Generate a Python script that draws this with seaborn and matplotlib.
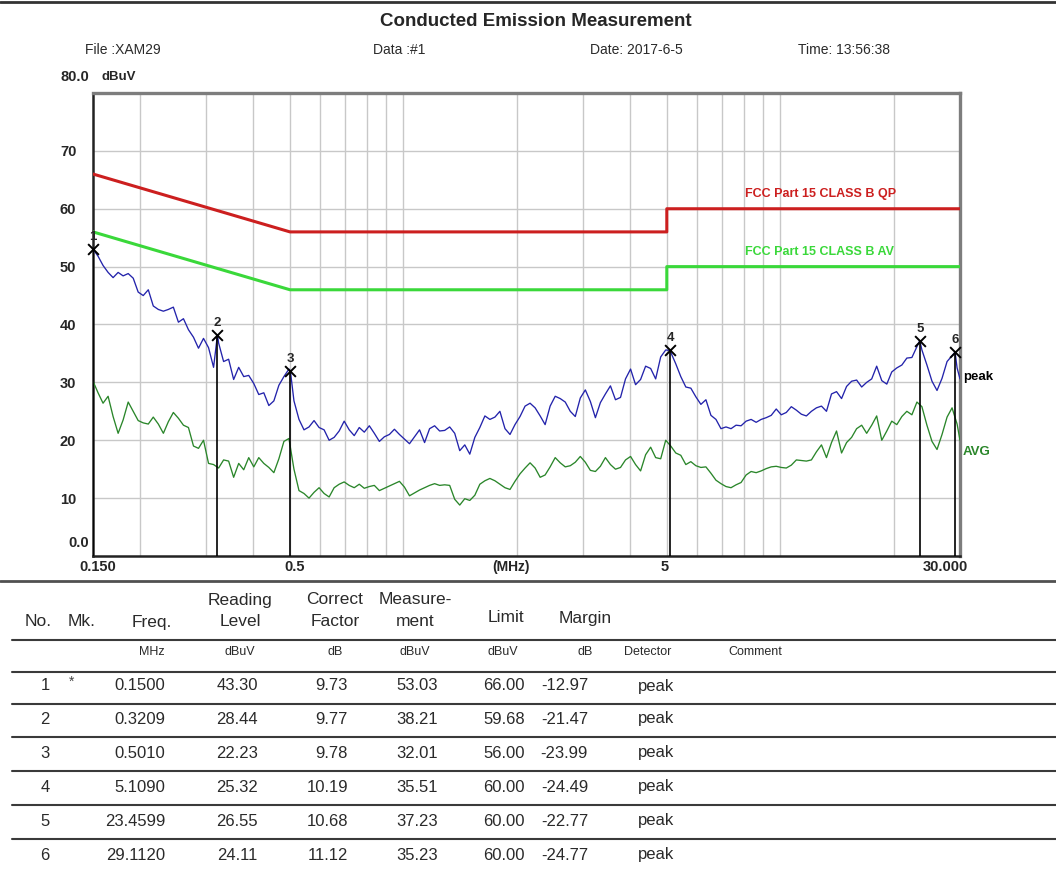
import matplotlib
matplotlib.use("Agg")
import matplotlib.pyplot as plt
from matplotlib.lines import Line2D
import pandas as pd
import seaborn as sns

# ---------------------------------------------------------------- sweep data
FREQ = [
    0.1500, 0.1547, 0.1595, 0.1645, 0.1696, 0.1749, 0.1803, 0.1860, 0.1918, 0.1977,
    0.2039, 0.2103, 0.2168, 0.2236, 0.2306, 0.2377, 0.2451, 0.2528, 0.2607, 0.2688,
    0.2772, 0.2858, 0.2947, 0.3039, 0.3134, 0.3232, 0.3332, 0.3436, 0.3543, 0.3654,
    0.3768, 0.3885, 0.4007, 0.4131, 0.4260, 0.4393, 0.4530, 0.4671, 0.4817, 0.4967,
    0.5122, 0.5282, 0.5446, 0.5616, 0.5791, 0.5972, 0.6158, 0.6350, 0.6548, 0.6752,
    0.6962, 0.7179, 0.7403, 0.7634, 0.7872, 0.8118, 0.8370, 0.8632, 0.8900, 0.9178,
    0.9464, 0.9759, 1.0063, 1.0377, 1.0701, 1.1035, 1.1379, 1.1733, 1.2099, 1.2476,
    1.2866, 1.3266, 1.3680, 1.4107, 1.4547,
    1.500, 1.547, 1.595, 1.645, 1.696, 1.749, 1.803, 1.860, 1.918, 1.977,
    2.039, 2.103, 2.168, 2.236, 2.306, 2.377, 2.451, 2.528, 2.607, 2.688,
    2.772, 2.858, 2.947, 3.039, 3.134, 3.232, 3.332, 3.436, 3.543, 3.654,
    3.768, 3.885, 4.007, 4.131, 4.260, 4.393, 4.530, 4.671, 4.817, 4.967,
    5.122, 5.282, 5.446, 5.616, 5.791, 5.972, 6.158, 6.350, 6.548, 6.752,
    6.962, 7.179, 7.403, 7.634, 7.872, 8.118, 8.370, 8.632, 8.900, 9.178,
    9.464, 9.759, 10.063, 10.377, 10.701, 11.035, 11.379, 11.733, 12.099, 12.476,
    12.866, 13.266, 13.680, 14.107, 14.547,
    15.00, 15.47, 15.95, 16.45, 16.96, 17.49, 18.03, 18.60, 19.18, 19.77,
    20.39, 21.03, 21.68, 22.36, 23.06, 23.77, 24.51, 25.28, 26.07, 26.88,
    27.72, 28.58, 29.47, 30.00,
]

PEAK = [
    53.03, 51.8, 50.2, 49.0, 48.1, 49.0, 48.4, 48.8, 48.0, 45.6,
    45.0, 46.0, 43.2, 42.6, 42.3, 42.6, 43.0, 40.4, 41.0, 39.1,
    37.8, 35.9, 37.6, 36.0, 32.6, 36.8, 33.6, 34.0, 30.5, 32.6,
    31.0, 31.2, 29.8, 27.9, 28.2, 26.0, 26.8, 29.5, 31.0, 32.3,
    26.8, 23.6, 21.8, 22.3, 23.4, 22.2, 21.8, 20.0, 20.5, 21.6,
    23.3, 21.8, 20.8, 22.2, 21.4, 22.5, 21.2, 19.8, 20.6, 21.0,
    21.9, 21.0, 20.2, 19.4, 20.6, 21.8, 19.6, 22.0, 22.5, 21.6,
    21.7, 22.3, 21.2, 18.2, 19.2, 17.6, 20.5, 22.2, 24.2, 23.6,
    24.0, 25.0, 22.0, 21.0, 22.7, 24.1, 25.9, 26.4, 25.6, 24.2,
    22.7, 25.9, 27.6, 27.2, 26.6, 25.0, 24.1, 27.3, 28.7, 26.7,
    23.9, 26.5, 28.0, 29.4, 27.0, 27.4, 30.6, 32.3, 29.6, 30.5,
    32.8, 32.4, 30.6, 34.4, 35.6, 35.2, 33.2, 31.0, 29.2, 29.0,
    27.5, 26.2, 27.0, 24.3, 23.6, 22.0, 22.3, 22.0, 22.6, 22.5,
    23.3, 23.6, 23.1, 23.6, 23.9, 24.3, 25.4, 24.4, 24.8, 25.8,
    25.2, 24.5, 24.2, 25.0, 25.6, 25.9, 25.0, 28.0, 28.4, 27.2,
    29.3, 30.2, 30.4, 29.2, 30.0, 30.6, 32.8, 30.3, 29.7, 31.8,
    32.5, 33.0, 34.2, 34.3, 36.2, 35.6, 33.0, 30.2, 28.6, 30.7,
    33.6, 34.6, 32.5, 30.6,
]

AVG = [
    30.2, 28.2, 26.4, 27.6, 24.1, 21.2, 23.5, 26.6, 25.0, 23.4,
    23.0, 22.8, 24.0, 22.8, 21.2, 23.2, 24.8, 23.8, 22.6, 22.2,
    19.0, 18.6, 20.0, 16.0, 15.8, 15.2, 16.6, 16.4, 13.6, 16.0,
    14.9, 17.0, 15.4, 17.0, 16.0, 15.3, 14.4, 16.8, 19.8, 20.3,
    15.0, 11.3, 10.8, 10.0, 11.0, 11.8, 10.8, 10.2, 11.8, 12.4,
    12.8, 12.2, 11.8, 12.4, 11.7, 12.0, 12.2, 11.3, 11.7, 12.1,
    12.5, 12.9, 11.9, 10.4, 10.9, 11.4, 11.8, 12.2, 12.5, 12.2,
    12.3, 12.2, 9.8, 8.8, 9.9, 9.6, 10.5, 12.4, 13.0, 13.4,
    13.0, 12.4, 11.8, 11.5, 12.9, 14.2, 15.2, 16.1, 15.2, 13.6,
    14.0, 15.4, 17.0, 16.1, 15.4, 15.6, 16.2, 17.2, 16.2, 14.8,
    14.6, 15.5, 17.0, 15.8, 15.0, 15.3, 16.6, 17.2, 15.8, 14.7,
    17.5, 18.8, 17.0, 16.8, 20.0, 19.0, 17.8, 17.4, 15.8, 16.3,
    15.6, 15.3, 15.4, 14.3, 13.1, 12.5, 12.0, 11.8, 12.3, 12.7,
    14.0, 14.6, 14.4, 14.7, 15.1, 15.4, 15.5, 15.3, 15.2, 15.7,
    16.6, 16.5, 16.4, 16.6, 18.0, 19.2, 17.0, 19.6, 21.6, 17.8,
    19.6, 20.5, 22.0, 22.6, 21.2, 22.6, 24.2, 20.0, 21.6, 23.3,
    22.7, 24.1, 25.0, 24.4, 26.6, 25.8, 22.6, 19.8, 18.4, 21.0,
    24.0, 25.6, 22.8, 20.0,
]

# ---------------------------------------------------------------- limit lines
LIMIT_FREQ = [0.15, 0.5, 5.0, 5.0, 30.0]
QP_LEVEL = [66.0, 56.0, 56.0, 60.0, 60.0]
AV_LEVEL = [56.0, 46.0, 46.0, 50.0, 50.0]
QP_NAME = "FCC Part 15 CLASS B QP"
AV_NAME = "FCC Part 15 CLASS B AV"

# ---------------------------------------------------------------- marker table
MK_NO = [1, 2, 3, 4, 5, 6]
MK_FLAG = ["*", "", "", "", "", ""]
MK_FREQ = [0.1500, 0.3209, 0.5010, 5.1090, 23.4599, 29.1120]
READING = [43.30, 28.44, 22.23, 25.32, 26.55, 24.11]
CORRECT = [9.73, 9.77, 9.78, 10.19, 10.68, 11.12]
MEAS = [53.03, 38.21, 32.01, 35.51, 37.23, 35.23]
LIMIT = [66.00, 59.68, 56.00, 60.00, 60.00, 60.00]
MARGIN = [-12.97, -21.47, -23.99, -24.49, -22.77, -24.77]
DETECTOR = ["peak"] * 6

Y_TICKS = [10, 20, 30, 40, 50, 60, 70]
X_TICK_FREQ = [0.15, 0.5, 5.0, 30.0]
X_TICK_TEXT = ["0.150", "0.5", "5", "30.000"]

TITLE = "Conducted Emission Measurement"
INFO = ["File :XAM29", "Data :#1", "Date: 2017-6-5", "Time: 13:56:38"]

PEAK_COLOR = "#2323ab"
AVG_COLOR = "#2a862a"
QP_COLOR = "#cc1f1f"
AV_COLOR = "#3ad83a"
GRID_COLOR = "#c8c8c8"
TEXT_COLOR = "#2a2a2a"

sns.set_style("white")
plt.rcParams["font.family"] = ["Liberation Sans", "DejaVu Sans"]

W, H = 1056, 869
fig = plt.figure(figsize=(W / 100, H / 100), dpi=100)
fig.patch.set_facecolor("white")


def fx(px):
    return px / W


def fy(py):
    return 1 - py / H


ax = fig.add_axes([fx(93), fy(556), fx(960) - fx(93), fy(93) - fy(556)])
ax.set_xscale("log")
ax.set_xlim(0.15, 30)
ax.set_ylim(0, 80)

# light grid: every 1..9 multiple per decade, every 10 dB
for dec in (0.1, 1.0, 10.0):
    for m in range(1, 10):
        g = m * dec
        if 0.15 < g < 30:
            ax.axvline(g, color=GRID_COLOR, lw=1.0, zorder=0)
for lv in Y_TICKS:
    ax.axhline(lv, color=GRID_COLOR, lw=1.0, zorder=0)

# limit lines
lim = pd.DataFrame({"freq": LIMIT_FREQ, "qp": QP_LEVEL, "av": AV_LEVEL})
sns.lineplot(data=lim, x="freq", y="qp", sort=False, estimator=None,
             color=QP_COLOR, lw=2.2, ax=ax, zorder=3)
sns.lineplot(data=lim, x="freq", y="av", sort=False, estimator=None,
             color=AV_COLOR, lw=2.2, ax=ax, zorder=3)

# measured traces (the peak trace passes through the marker readings)
sweep = pd.DataFrame({"freq": FREQ, "peak": PEAK, "avg": AVG})
marks = pd.DataFrame({"freq": MK_FREQ, "peak": MEAS})
peak_df = (pd.concat([sweep[["freq", "peak"]], marks])
           .drop_duplicates("freq").sort_values("freq"))
sns.lineplot(data=sweep, x="freq", y="avg", estimator=None,
             color=AVG_COLOR, lw=0.95, ax=ax, zorder=4)
sns.lineplot(data=peak_df, x="freq", y="peak", estimator=None,
             color=PEAK_COLOR, lw=0.95, ax=ax, zorder=4)

# markers
ax.vlines(MK_FREQ, 0, MEAS, colors="black", lw=1.2, zorder=5)
sns.scatterplot(x=MK_FREQ, y=MEAS, marker="x", s=60, color="black",
                linewidth=1.4, ax=ax, zorder=6, clip_on=False, legend=False)
for n, f, v in zip(MK_NO, MK_FREQ, MEAS):
    ax.annotate(str(n), xy=(f, v), xytext=(0, 6), textcoords="offset pixels",
                ha="center", va="bottom", fontsize=9.5, fontweight="bold",
                annotation_clip=False, zorder=8)

# limit captions and trace captions
ax.annotate(QP_NAME, xy=(0.752, QP_LEVEL[-1]), xycoords=("axes fraction", "data"),
            xytext=(0, 9), textcoords="offset pixels", ha="left", va="bottom",
            fontsize=9, fontweight="bold", color=QP_COLOR)
ax.annotate(AV_NAME, xy=(0.752, AV_LEVEL[-1]), xycoords=("axes fraction", "data"),
            xytext=(0, 9), textcoords="offset pixels", ha="left", va="bottom",
            fontsize=9, fontweight="bold", color=AV_COLOR)
ax.annotate("peak", xy=(1, 31), xycoords=("axes fraction", "data"),
            xytext=(3, 0), textcoords="offset pixels", ha="left", va="center",
            fontsize=9.5, fontweight="bold", color="black", annotation_clip=False)
ax.annotate("AVG", xy=(1, 18), xycoords=("axes fraction", "data"),
            xytext=(3, 0), textcoords="offset pixels", ha="left", va="center",
            fontsize=9.5, fontweight="bold", color=AVG_COLOR, annotation_clip=False)

# axes frame
for side in ("left", "bottom"):
    ax.spines[side].set_color("#222222")
    ax.spines[side].set_linewidth(1.8)
for side in ("top", "right"):
    ax.spines[side].set_color("#7d7d7d")
    ax.spines[side].set_linewidth(2.4)

ax.set_yticks(Y_TICKS)
ax.set_yticklabels([str(t) for t in Y_TICKS], fontsize=10.5, fontweight="bold")
ax.tick_params(axis="y", length=0, pad=12)
ax.set_xticks([])
ax.set_xticks([], minor=True)
ax.set_xlabel("")
ax.set_ylabel("")

x_shift = [5, 5, -2, -15]
for f, t, dx in zip(X_TICK_FREQ, X_TICK_TEXT, x_shift):
    ax.annotate(t, xy=(f, 0), xycoords=("data", "axes fraction"),
                xytext=(dx, -11), textcoords="offset pixels", ha="center", va="center",
                fontsize=10.5, fontweight="bold", annotation_clip=False)
ax.annotate("(MHz)", xy=(0.482, 0), xycoords="axes fraction", xytext=(0, -11),
            textcoords="offset pixels", ha="center", va="center",
            fontsize=10, fontweight="bold")

fig.text(fx(89), fy(77), "80.0", ha="right", va="center", fontsize=10.5, fontweight="bold")
fig.text(fx(101), fy(77), "dBuV", ha="left", va="center", fontsize=9.5, fontweight="bold")
fig.text(fx(89), fy(543), "0.0", ha="right", va="center", fontsize=10.5, fontweight="bold")

# page header
fig.add_artist(Line2D([0, 1], [fy(1.5)] * 2, color="#333333", lw=2.0))
fig.text(fx(536), fy(21), TITLE, ha="center", va="center", fontsize=13.5, fontweight="bold")
for x0, s in zip((85, 373, 590, 798), INFO):
    fig.text(fx(x0), fy(50), s, ha="left", va="center", fontsize=10, color=TEXT_COLOR)

# marker table
fig.add_artist(Line2D([0, 1], [fy(581)] * 2, color="#505050", lw=2.0))
for yl in (640, 672, 704, 737, 771, 805, 839):
    fig.add_artist(Line2D([fx(12), 1], [fy(yl)] * 2, color="#3a3a3a", lw=1.5))

HDR_FS = 12.5
fig.text(fx(38), fy(622), "No.", ha="center", va="center", fontsize=HDR_FS, color=TEXT_COLOR)
fig.text(fx(82), fy(622), "Mk.", ha="center", va="center", fontsize=HDR_FS, color=TEXT_COLOR)
fig.text(fx(152), fy(622), "Freq.", ha="center", va="center", fontsize=HDR_FS, color=TEXT_COLOR)
for xc, top, bot in ((240, "Reading", "Level"), (335, "Correct", "Factor"),
                     (415, "Measure-", "ment")):
    fig.text(fx(xc), fy(600), top, ha="center", va="center", fontsize=HDR_FS, color=TEXT_COLOR)
    fig.text(fx(xc), fy(622), bot, ha="center", va="center", fontsize=HDR_FS, color=TEXT_COLOR)
fig.text(fx(506), fy(618), "Limit", ha="center", va="center", fontsize=HDR_FS, color=TEXT_COLOR)
fig.text(fx(585), fy(618), "Margin", ha="center", va="center", fontsize=HDR_FS, color=TEXT_COLOR)

for xc, u in ((152, "MHz"), (240, "dBuV"), (335, "dB"), (415, "dBuV"),
              (503, "dBuV"), (585, "dB"), (648, "Detector"), (755, "Comment")):
    fig.text(fx(xc), fy(652), u, ha="center", va="center", fontsize=9, color=TEXT_COLOR)

ROW_FS = 12
row_y = [686, 719, 753, 787, 821, 855]
for i, yr in enumerate(row_y):
    fig.text(fx(45), fy(yr), str(MK_NO[i]), ha="center", va="center", fontsize=ROW_FS, color=TEXT_COLOR)
    if MK_FLAG[i]:
        fig.text(fx(72), fy(yr - 4), MK_FLAG[i], ha="center", va="center", fontsize=10, color="#444444")
    fig.text(fx(165), fy(yr), f"{MK_FREQ[i]:.4f}", ha="right", va="center", fontsize=ROW_FS, color=TEXT_COLOR)
    fig.text(fx(258), fy(yr), f"{READING[i]:.2f}", ha="right", va="center", fontsize=ROW_FS, color=TEXT_COLOR)
    fig.text(fx(348), fy(yr), f"{CORRECT[i]:.2f}", ha="right", va="center", fontsize=ROW_FS, color=TEXT_COLOR)
    fig.text(fx(438), fy(yr), f"{MEAS[i]:.2f}", ha="right", va="center", fontsize=ROW_FS, color=TEXT_COLOR)
    fig.text(fx(525), fy(yr), f"{LIMIT[i]:.2f}", ha="right", va="center", fontsize=ROW_FS, color=TEXT_COLOR)
    fig.text(fx(588), fy(yr), f"{MARGIN[i]:.2f}", ha="right", va="center", fontsize=ROW_FS, color=TEXT_COLOR)
    fig.text(fx(638), fy(yr), DETECTOR[i], ha="left", va="center", fontsize=ROW_FS, color=TEXT_COLOR)

fig.savefig("out.png", dpi=100, facecolor="white")
